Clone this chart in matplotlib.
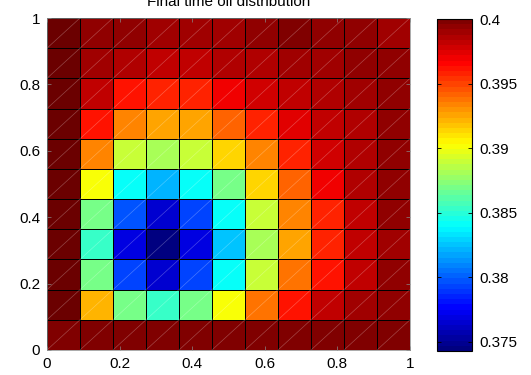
import numpy as np
import matplotlib
matplotlib.use('Agg')
import matplotlib.pyplot as plt
from matplotlib.colors import ListedColormap
from matplotlib.collections import LineCollection

plt.rcParams['font.family'] = ['Liberation Sans', 'DejaVu Sans']

# oil saturation per cell, written top row first (y = 1 down to y = 0)
OV = 0.4005  # left column, darker than the top of the scale
oil_top_down = [
    [OV, 0.39936, 0.39959, 0.39918, 0.39918, 0.39918, 0.39959, 0.39974, 0.39959, 0.39959, 0.39905],
    [OV, 0.39905, 0.39851, 0.39817, 0.39807, 0.39851, 0.39878, 0.39905, 0.39918, 0.39946, 0.39959],
    [OV, 0.39807, 0.39635, 0.39594, 0.39594, 0.39679, 0.39764, 0.39838, 0.39878, 0.39905, 0.39946],
    [OV, 0.39635, 0.39337, 0.39275, 0.39275, 0.39437, 0.39594, 0.39722, 0.39817, 0.39878, 0.39946],
    [OV, 0.39337, 0.38908, 0.38797, 0.38876, 0.39121, 0.39337, 0.39594, 0.39764, 0.39878, 0.39946],
    [OV, 0.39036, 0.38394, 0.38222, 0.38394, 0.38715, 0.39121, 0.39437, 0.39679, 0.39878, 0.39946],
    [OV, 0.38715, 0.37965, 0.37666, 0.37923, 0.38394, 0.38908, 0.39337, 0.39594, 0.39807, 0.39936],
    [OV, 0.38554, 0.37708, 0.37430, 0.37708, 0.38234, 0.38797, 0.39275, 0.39594, 0.39807, 0.39918],
    [OV, 0.38715, 0.37923, 0.37666, 0.37923, 0.38394, 0.38908, 0.39358, 0.39635, 0.39838, 0.39936],
    [OV, 0.39208, 0.38715, 0.38554, 0.38715, 0.39036, 0.39358, 0.39635, 0.39807, 0.39918, 0.39936],
    [0.4, 0.4, 0.4, 0.4, 0.4, 0.4, 0.4, 0.4, 0.4, 0.4, 0.4],
]
clim = (0.3743, 0.4)
axis_ticks = [0, 0.2, 0.4, 0.6, 0.8, 1]
axis_labels = ['0', '0.2', '0.4', '0.6', '0.8', '1']
cbar_ticks = [0.375, 0.38, 0.385, 0.39, 0.395, 0.4]
cbar_labels = ['0.375', '0.38', '0.385', '0.39', '0.395', '0.4']
title = 'Final time oil distribution'


def matlab_jet(n=64):
    # same formula as matlab's jet(64)
    t = np.linspace(0, 1, n)
    r = np.clip(1.5 - np.abs(4 * t - 3), 0, 1)
    g = np.clip(1.5 - np.abs(4 * t - 2), 0, 1)
    b = np.clip(1.5 - np.abs(4 * t - 1), 0, 1)
    cm = ListedColormap(np.column_stack([r, g, b]))
    cm.set_over('#6b0000')
    return cm


oil = np.array(oil_top_down)[::-1]
ny, nx = oil.shape
xe = np.linspace(0, 1, nx + 1)
ye = np.linspace(0, 1, ny + 1)

fig = plt.figure(figsize=(5.31, 3.75), dpi=100)
ax = fig.add_axes([0.0885, 0.0667, 0.6836, 0.8853])
cax = fig.add_axes([0.823, 0.064, 0.0659, 0.885])

mesh = ax.pcolormesh(xe, ye, oil, cmap=matlab_jet(), vmin=clim[0], vmax=clim[1],
                     edgecolors='black', linewidth=0.6)

# faint diagonals left by the patch triangulation
segs = [[(xe[i], ye[j]), (xe[i + 1], ye[j + 1])] for i in range(nx) for j in range(ny)]
ax.add_collection(LineCollection(segs, colors='white', linewidths=0.5, alpha=0.28))

ax.set_xlim(0, 1)
ax.set_ylim(0, 1)
ax.set_xticks(axis_ticks)
ax.set_xticklabels(axis_labels)
ax.set_yticks(axis_ticks)
ax.set_yticklabels(axis_labels)
ax.tick_params(direction='in', top=True, right=True, labelsize=11, length=3,
               width=0.5, color='#888888', pad=5)
for s in ax.spines.values():
    s.set_linewidth(0.5)
    s.set_color('#888888')

cb = fig.colorbar(mesh, cax=cax)
cb.set_ticks(cbar_ticks)
cb.set_ticklabels(cbar_labels)
cb.ax.tick_params(direction='in', labelsize=11, length=3, width=0.6, pad=5, left=True)
cb.outline.set_linewidth(0.8)

# the title sits half outside the canvas, as in the original export
fig.text(0.43, 0.995, title, ha='center', va='center', fontsize=11)

fig.savefig('out.png', dpi=100)
